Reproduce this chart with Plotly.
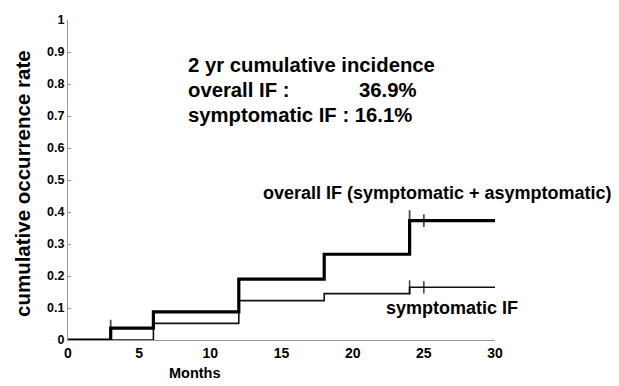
import plotly.graph_objects as go

months = [0, 3, 6, 12, 18, 24, 30]
overall_rate = [0, 0.037, 0.088, 0.19, 0.268, 0.373, 0.373]
symptomatic_rate = [0, 0, 0.052, 0.123, 0.145, 0.165, 0.165]

overall_censor_x = [3, 24, 25]
overall_censor_y = [0.037, 0.373, 0.373]
sympt_censor_x = [24, 25]
sympt_censor_y = [0.165, 0.165]

x_ticks = [0, 5, 10, 15, 20, 25, 30]
y_ticks = [0, 0.1, 0.2, 0.3, 0.4, 0.5, 0.6, 0.7, 0.8, 0.9, 1]
y_tick_labels = ["0", "0.1", "0.2", "0.3", "0.4", "0.5", "0.6", "0.7", "0.8", "0.9", "1"]

FONT = "Liberation Sans, Arial, sans-serif"

fig = go.Figure()
fig.add_trace(go.Scatter(x=months, y=symptomatic_rate, mode="lines", line_shape="hv",
                         line=dict(color="#111", width=1.6), showlegend=False, hoverinfo="skip"))
fig.add_trace(go.Scatter(x=months, y=overall_rate, mode="lines", line_shape="hv",
                         line=dict(color="#000", width=3.2), showlegend=False, hoverinfo="skip"))
fig.add_trace(go.Scatter(x=overall_censor_x, y=overall_censor_y, mode="markers",
                         marker=dict(symbol="line-ns-open", size=[12, 15, 9], color="#000",
                                     line=dict(color="#000", width=1.8)),
                         showlegend=False, hoverinfo="skip"))
fig.add_trace(go.Scatter(x=sympt_censor_x, y=sympt_censor_y, mode="markers",
                         marker=dict(symbol="line-ns-open", size=[10, 9], color="#000",
                                     line=dict(color="#000", width=1.6)),
                         showlegend=False, hoverinfo="skip"))

fig.update_xaxes(range=[0, 30], tickvals=x_ticks, showgrid=False, zeroline=False,
                 showline=True, linecolor="#999", linewidth=1, ticks="", automargin=False,
                 tickfont=dict(family=FONT, size=14, color="#000", weight="bold"))
fig.update_yaxes(range=[0, 1], tickvals=y_ticks, ticktext=y_tick_labels, showgrid=False,
                 zeroline=False, showline=True, linecolor="#999", linewidth=1,
                 ticks="inside", ticklen=3, tickcolor="#999", automargin=False,
                 tickfont=dict(family=FONT, size=12.5, color="#000", weight="bold"))

# positions given in screen px; plot area spans x 68..495, y 20..340 on screen
def px(xp):
    return (xp - 68) / (495 - 68)
def py(yp):
    return (340 - yp) / (340 - 20)

def ann(text, x, y, size, xanchor="left", angle=0):
    fig.add_annotation(text=text, x=px(x), y=py(y), xref="paper", yref="paper", showarrow=False,
                       xanchor=xanchor, yanchor="middle", textangle=angle,
                       font=dict(family=FONT, size=size, color="#000", weight="bold"))

ann("2 yr cumulative incidence", 186, 65, 20.3)
ann("overall IF :", 186, 90, 20.3)
ann("36.9%", 357, 90, 20.3)
ann("symptomatic IF : 16.1%", 186, 115, 20.3)
ann("overall IF (symptomatic + asymptomatic)", 261, 193, 18)
ann("symptomatic IF", 384, 308, 18)
ann("Months", 195, 373, 14.5, xanchor="center")
ann("cumulative occurrence rate", 22, 184, 20.5, xanchor="center", angle=-90)

# page body has an 8px offset; figure is sized/margined so the plot lands at the target pixels
fig.update_layout(width=611, height=378, margin=dict(l=60, r=124, t=12, b=46),
                  plot_bgcolor="white", paper_bgcolor="white")

fig.write_html("out.html")
